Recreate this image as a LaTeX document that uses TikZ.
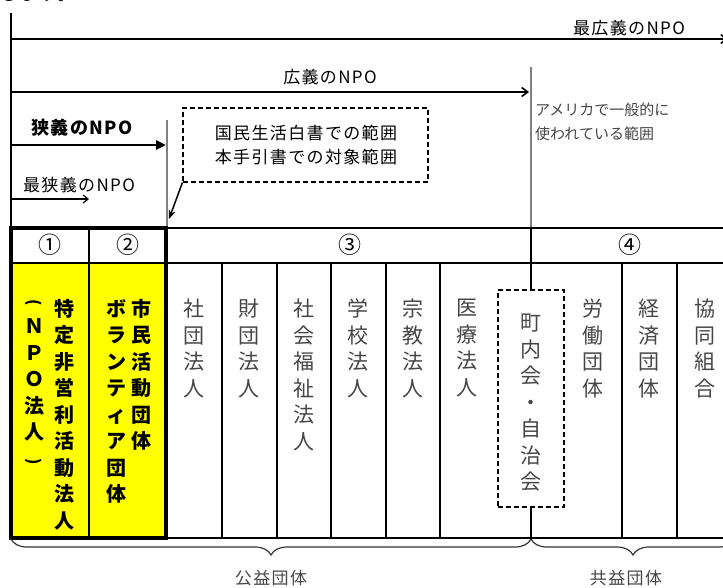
\documentclass[tikz,border=0pt]{standalone}
\usepackage{fontspec}
\setmainfont{Noto Sans CJK JP}
\newfontfamily\jpsp[LetterSpace=8]{Noto Sans CJK JP}
\usetikzlibrary{arrows.meta,decorations.pathreplacing}
\definecolor{npoyellow}{RGB}{255,255,0}
\definecolor{txtgray}{RGB}{70,70,70}
\newcommand{\vparL}{\rotatebox[origin=c]{-90}{\fontsize{16}{16}\selectfont (}}
\newcommand{\vparR}{\rotatebox[origin=c]{-90}{\fontsize{16}{16}\selectfont )}}
\tikzset{
  lbl/.style={font=\jpsp\fontsize{17}{20}\selectfont, inner sep=0},
  numlbl/.style={font=\fontsize{23}{24}\selectfont, inner sep=0},
  vtext/.style={font=\fontsize{21}{26.5}\selectfont, align=center, anchor=north, inner sep=0, text=txtgray},
  vbold/.style={font=\bfseries\fontsize{20}{26.5}\selectfont, align=center, anchor=north, inner sep=0},
  grayline/.style={draw=gray, line width=2.2},
  frame/.style={line width=2},
  thickframe/.style={line width=3.5},
  divider/.style={line width=1.6},
  bracestyle/.style={decorate, decoration={brace, mirror, amplitude=16}, line width=1.2, draw=black!80},
}
\begin{document}
\begin{tikzpicture}[x=1pt,y=-1pt]
\useasboundingbox (0,0) rectangle (723,587);

% fragment of preceding text
\node[anchor=base west, inner sep=0, font=\fontsize{20}{22}\selectfont] (prev) at (-1,0.5) {します。};

% key coordinates
\coordinate (topL) at (11,13);
\coordinate (a1s) at (11,39);   \coordinate (a1e) at (727,39);
\coordinate (a2s) at (11,92);   \coordinate (a2e) at (529,92);
\coordinate (a3s) at (11,145);  \coordinate (a3e) at (166,145);
\coordinate (a4s) at (11,199);  \coordinate (a4e) at (89,199);
\coordinate (g1t) at (167,120); \coordinate (g1b) at (167,228);
\coordinate (g2t) at (531,67);  \coordinate (g2b) at (531,228);
\coordinate (ptr) at (169,219);

% yellow cells
\fill[npoyellow] (11,263) rectangle (166,538);

% left vertical line above the table
\draw[frame] (topL) -- (11,228);

% gray range lines
\draw[grayline] (g1t) -- (g1b);
\draw[grayline] (g2t) -- (g2b);

% arrows
\draw[line width=1.6, -{Straight Barb[length=5,width=9]}] (a1s) -- (a1e);
\draw[line width=1.6, -{Straight Barb[length=6,width=9,line width=1.6]}] (a2s) -- (a2e);
\draw[line width=2.6, -{Triangle[length=10,width=9]}] (a3s) -- (a3e);
\draw[line width=1.2, -{Straight Barb[length=5,width=8]}] (a4s) -- (a4e);

% labels of ranges
\node[lbl] (wide2) at (629,28) {最広義のNPO};
\node[lbl] (wide1) at (330,77) {広義のNPO};
\node[lbl, font=\jpsp\bfseries\fontsize{18}{20}\selectfont] (narrow1) at (82,128) {狭義のNPO};
\node[lbl] (narrow2) at (79,185) {最狭義のNPO};
\node[anchor=west, inner sep=0, text=txtgray, font=\fontsize{15}{18}\selectfont] (us1) at (535,110) {アメリカで一般的に};
\node[anchor=west, inner sep=0, text=txtgray, font=\fontsize{15}{18}\selectfont] (us2) at (535,134) {使われている範囲};

% dashed scope box
\node[draw, dashed, line width=1.2, dash pattern=on 5pt off 3pt, minimum width=245, minimum height=74, inner sep=0] (scopebox) at (305.5,145) {};
\node[lbl] (scope1) at (306,133) {国民生活白書での範囲};
\node[lbl] (scope2) at (306,157) {本手引書での対象範囲};
\draw[line width=1.5, -{Stealth[length=9,width=7]}] (scopebox.south west) -- (ptr);

% table: right part
\draw[line width=1.2] (166,228) -- (723,228);
\draw[frame] (166,263) -- (723,263);
\draw[line width=2.6] (166,538) -- (723,538);
\draw[frame] (531,228) -- (531,263);
\foreach \x in {222,277,331,386,440,622,677}
  \draw[divider] (\x,263) -- (\x,538);

% 町内会 dashed box and the split line
\node[draw, dashed, line width=1.2, dash pattern=on 5pt off 3pt, minimum width=66, minimum height=217, inner sep=0] (townbox) at (531,398.5) {};
\draw[frame] (531,263) -- (townbox.north);
\draw[frame] (townbox.south) -- (531,538);

% table: left thick part
\draw[thickframe] (11,228) rectangle (166,538);
\draw[line width=2.6] (89,228) -- (89,538);
\draw[line width=2.6] (11,263) -- (166,263);

% header numbers
\node[numlbl] (n1) at (50,245) {①};
\node[numlbl] (n2) at (128,245) {②};
\node[numlbl] (n3) at (350,245) {③};
\node[numlbl] (n4) at (630,245) {④};

% column texts
\node[vbold] (c1a) at (64,299) {特\\定\\非\\営\\利\\活\\動\\法\\人};
\node[vbold] (c1b) at (34,299) {\vparL\\Ｎ\\Ｐ\\Ｏ\\法\\人\\\vparR};
\node[vbold] (c2a) at (141,299) {市\\民\\活\\動\\団\\体};
\node[vbold] (c2b) at (116,299) {ボ\\ラ\\ン\\テ\\ィ\\ア\\団\\体};
\node[vtext] (c3) at (194,299) {社\\団\\法\\人};
\node[vtext] (c4) at (249,299) {財\\団\\法\\人};
\node[vtext] (c5) at (304,299) {社\\会\\福\\祉\\法\\人};
\node[vtext] (c6) at (358,299) {学\\校\\法\\人};
\node[vtext] (c7) at (413,299) {宗\\教\\法\\人};
\node[vtext] (c8) at (467,299) {医\\療\\法\\人};
\node[vtext] (c9) at (531,314) {町\\内\\会\\・\\自\\治\\会};
\node[vtext] (c10) at (593,299) {労\\働\\団\\体};
\node[vtext] (c11) at (649,299) {経\\済\\団\\体};
\node[vtext] (c12) at (705,299) {協\\同\\組\\合};

% braces
\coordinate (b1s) at (11,539);
\coordinate (b1e) at (531,539);
\coordinate (b2s) at (531,539);
\coordinate (b2e) at (735,539);
\draw[bracestyle] (b1s) -- (b1e);
\draw[bracestyle] (b2s) -- (b2e);
\node[lbl, text=txtgray] (public) at (271,578) {公益団体};
\node[lbl, text=txtgray] (mutual) at (626,578) {共益団体};
\end{tikzpicture}
\end{document}
